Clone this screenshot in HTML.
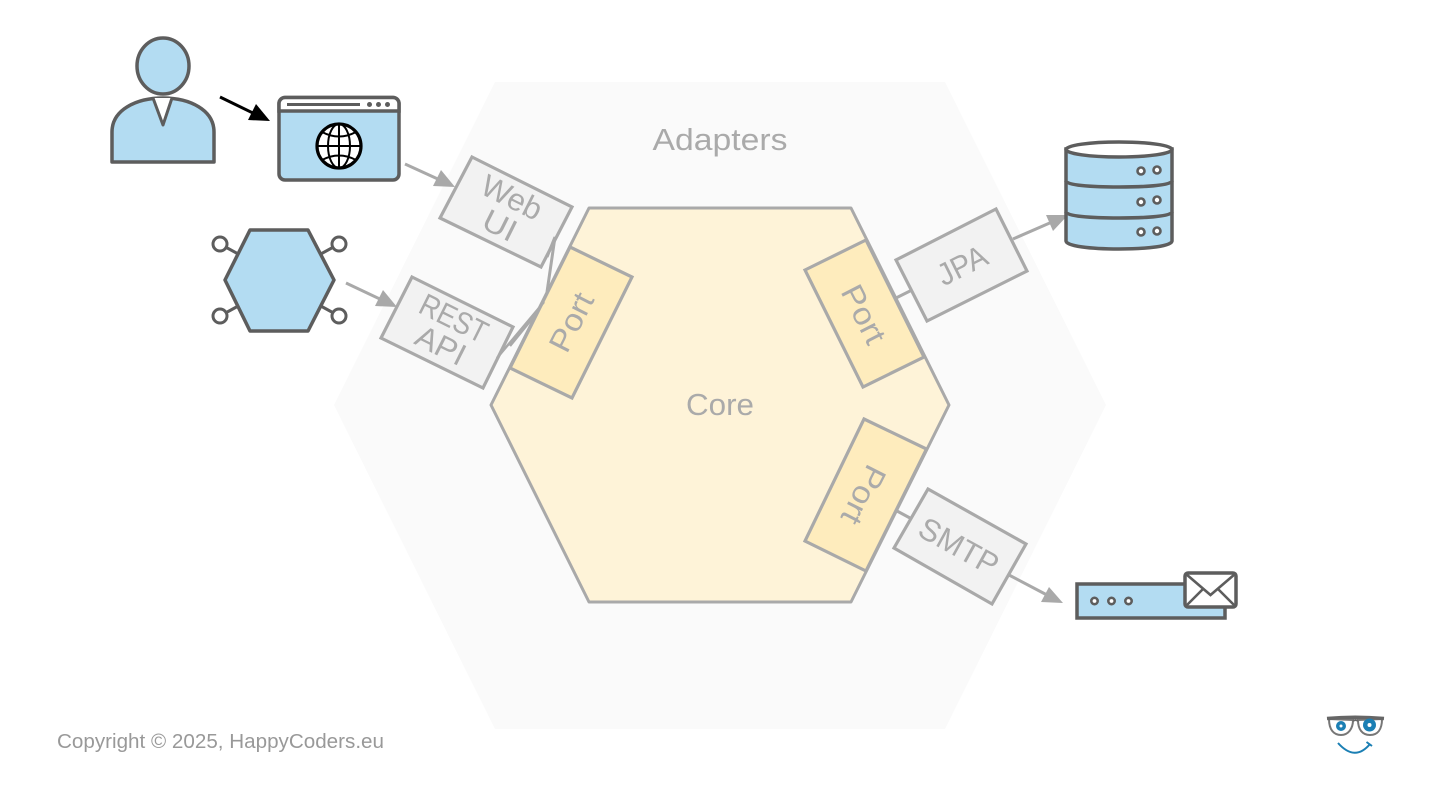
<!DOCTYPE html>
<html><head><meta charset="utf-8"><style>
html,body{margin:0;padding:0;background:#fff}
svg{display:block}
text{font-family:"Liberation Sans",sans-serif;fill:#aaa;text-anchor:middle}
.g{fill:none;stroke:#a9a9a9;stroke-width:3}
.d{stroke:#5d5d5d;stroke-width:3.5}
</style></head><body>
<svg width="1440" height="810" viewBox="0 0 1440 810" xmlns="http://www.w3.org/2000/svg">
<rect width="1440" height="810" fill="#fff"/>
<polygon points="334,405 495,82 945,82 1106,405 945,729 495,729" fill="#fafafa"/>
<polygon points="491,405 589,208 851,208 949,405 851,602 589,602" fill="#fef3d8" stroke="#a9a9a9" stroke-width="3" stroke-linejoin="round"/>

<!-- ports -->
<polygon points="570,247 632,277 572,398 510,368" fill="#feecbd" stroke="#a9a9a9" stroke-width="3.2"/>
<polygon points="805,270 866,240 924,357 863,387" fill="#feecbd" stroke="#a9a9a9" stroke-width="3.2"/>
<polygon points="864,419 926.500,449 866,571 805,541" fill="#feecbd" stroke="#a9a9a9" stroke-width="3.2"/>
<text transform="translate(571,322) rotate(-63)" y="11" font-size="31" textLength="62" lengthAdjust="spacingAndGlyphs">Port</text>
<text transform="translate(864,314) rotate(63)" y="11" font-size="31" textLength="62" lengthAdjust="spacingAndGlyphs">Port</text>
<text transform="translate(864,495) rotate(117)" y="11" font-size="31" textLength="62" lengthAdjust="spacingAndGlyphs">Port</text>

<!-- adapters -->
<polygon points="472,157 572,207 541,267 440,218" fill="#f2f2f2" stroke="#a9a9a9" stroke-width="3.2"/>
<polygon points="412,277 513,327 483,388 381,338" fill="#f2f2f2" stroke="#a9a9a9" stroke-width="3.2"/>
<polygon points="996,209 1027,271 927,321 896,260" fill="#f2f2f2" stroke="#a9a9a9" stroke-width="3.2"/>
<polygon points="928,489 1026,544 992,604 894,548" fill="#f2f2f2" stroke="#a9a9a9" stroke-width="3.2"/>
<text transform="translate(512,197) rotate(26.5)" y="11" font-size="31" textLength="64" lengthAdjust="spacingAndGlyphs">Web</text>
<text transform="translate(500,225) rotate(26.5)" y="11" font-size="31" textLength="34" lengthAdjust="spacingAndGlyphs">UI</text>
<text transform="translate(454,318) rotate(26.5)" y="11" font-size="31" textLength="72" lengthAdjust="spacingAndGlyphs">REST</text>
<text transform="translate(441,345) rotate(26.5)" y="11" font-size="31" textLength="52" lengthAdjust="spacingAndGlyphs">API</text>
<text transform="translate(962,265) rotate(-26.5)" y="11" font-size="31" textLength="52" lengthAdjust="spacingAndGlyphs">JPA</text>
<text transform="translate(959,546) rotate(29)" y="11" font-size="31" textLength="86" lengthAdjust="spacingAndGlyphs">SMTP</text>

<!-- connectors -->
<path class="g" d="M547,292 L555,237 L547,257" stroke-width="2.500"/>
<path d="M497,358 L544,302 M510,346 L536,314" fill="none" stroke="#a9a9a9" stroke-width="2.500"/>
<path class="g" d="M896,298 L912,290 M897,511 L910,518"/>
<path class="g" d="M405,164 L440,180"/>
<polygon points="455,187 433,186 441,170" fill="#a9a9a9"/>
<path class="g" d="M346,283 L382,300"/>
<polygon points="397,307 375,306 383,290" fill="#a9a9a9"/>
<path class="g" d="M1013,239 L1052,222"/>
<polygon points="1068,215 1053,231 1046,215" fill="#a9a9a9"/>
<path class="g" d="M1009,575 L1047,595"/>
<polygon points="1063,603 1041,602 1049,587" fill="#a9a9a9"/>
<path d="M220,97 L255,114" stroke="#000" stroke-width="3" fill="none"/>
<polygon points="270,121 248,120 256,104" fill="#000"/>

<!-- person -->
<path class="d" d="M112,162 L214,162 L214,132 C214,110 190,98 163,98 C136,98 112,110 112,132 Z" fill="#b3dcf2" stroke-linejoin="round"/>
<path d="M153,98 L163,125 L172,98" fill="#fff" stroke="#5d5d5d" stroke-width="3" stroke-linejoin="round"/>
<ellipse class="d" cx="163" cy="66" rx="26" ry="28" fill="#b3dcf2"/>

<!-- browser -->
<rect class="d" x="279" y="97.500" width="120" height="82.500" rx="6" fill="#b3dcf2"/>
<path d="M279,111 V103.500 a6,6 0 0 1 6,-6 H393 a6,6 0 0 1 6,6 V111 Z" fill="#fff" stroke="#5d5d5d" stroke-width="3.500"/>
<path d="M287,104.500 H360" stroke="#5d5d5d" stroke-width="3"/>
<circle cx="369.500" cy="104.500" r="2.500" fill="#5d5d5d"/><circle cx="378.500" cy="104.500" r="2.500" fill="#5d5d5d"/><circle cx="387.500" cy="104.500" r="2.500" fill="#5d5d5d"/>
<g fill="none" stroke="#000">
<circle cx="339" cy="146" r="22" fill="#fff" stroke-width="3.200"/>
<ellipse cx="339" cy="146" rx="11" ry="22" stroke-width="2"/>
<path d="M339,124 V168 M317,146 H361 M322,132 Q339,141 356,132 M322,160 Q339,151 356,160" stroke-width="2"/>
</g>

<!-- hexagon -->
<path d="M220,244 L240,255 M339,244 L319,255 M220,316 L240,305 M339,316 L319,305" stroke="#5d5d5d" stroke-width="3"/>
<polygon class="d" points="225,280 250,230 308,230 334,280 308,331 250,331" fill="#b3dcf2" stroke-linejoin="round"/>
<g fill="#fff" stroke="#5d5d5d" stroke-width="3"><circle cx="220" cy="244" r="7"/><circle cx="339" cy="244" r="7"/><circle cx="220" cy="316" r="7"/><circle cx="339" cy="316" r="7"/></g>

<!-- database -->
<path class="d" d="M1066,149 V241 C1066,246 1090,249 1119,249 C1148,249 1172,246 1172,241 V149 Z" fill="#b3dcf2"/>
<path class="d" fill="none" d="M1066,181 C1066,185 1090,187 1119,187 C1148,187 1172,185 1172,181 M1066,212 C1066,216 1090,218 1119,218 C1148,218 1172,216 1172,212"/>
<ellipse class="d" cx="1119" cy="149.500" rx="53" ry="7.500" fill="#fff"/>
<g fill="#fff" stroke="#5d5d5d" stroke-width="2.600"><circle cx="1141" cy="171" r="3.500"/><circle cx="1157" cy="170" r="3.500"/><circle cx="1141" cy="202" r="3.500"/><circle cx="1157" cy="200" r="3.500"/><circle cx="1141" cy="232" r="3.500"/><circle cx="1157" cy="231" r="3.500"/></g>

<!-- email -->
<rect class="d" x="1077" y="584" width="148" height="34" fill="#b3dcf2"/>
<g fill="#fff" stroke="#5d5d5d" stroke-width="2.600"><circle cx="1094.500" cy="601" r="3.200"/><circle cx="1111.500" cy="601" r="3.200"/><circle cx="1128.500" cy="601" r="3.200"/></g>
<rect class="d" x="1185" y="573" width="51" height="34" rx="3" fill="#fff"/>
<path d="M1186,574 L1210.500,595 L1235,574 M1186,606 L1203,589 M1235,606 L1218,589" fill="none" stroke="#5d5d5d" stroke-width="2.600"/>

<!-- labels -->
<text x="720" y="150" font-size="31" textLength="135" lengthAdjust="spacingAndGlyphs">Adapters</text>
<text x="720" y="415" font-size="31" textLength="68" lengthAdjust="spacingAndGlyphs">Core</text>
<text x="220.500" y="748" font-size="20" style="fill:#999" textLength="327" lengthAdjust="spacingAndGlyphs">Copyright © 2025, HappyCoders.eu</text>

<!-- logo -->
<path d="M1329,719 C1329,730 1334,735 1341,735 C1348,735 1353,729 1353,720 Z" fill="#fff" stroke="#777" stroke-width="2"/>
<path d="M1358,720 C1358,729 1362,735 1370,735 C1378,735 1382,729 1382,719 Z" fill="#fff" stroke="#777" stroke-width="2"/>
<path d="M1327,718.500 Q1355,716 1384,718.500" fill="none" stroke="#666" stroke-width="3.500"/>
<path d="M1353,721 Q1355.500,719 1358,721" fill="none" stroke="#666" stroke-width="2"/>
<circle cx="1341" cy="726" r="5" fill="#1b7fb4"/><circle cx="1341" cy="726" r="1.500" fill="#fff"/>
<circle cx="1369.500" cy="725" r="6.500" fill="#1b7fb4"/><circle cx="1369.500" cy="725" r="2" fill="#fff"/>
<path d="M1338,743 Q1355,762 1370,744 M1366.500,742 L1372,746" fill="none" stroke="#1b7fb4" stroke-width="2"/>
</svg>
</body></html>
